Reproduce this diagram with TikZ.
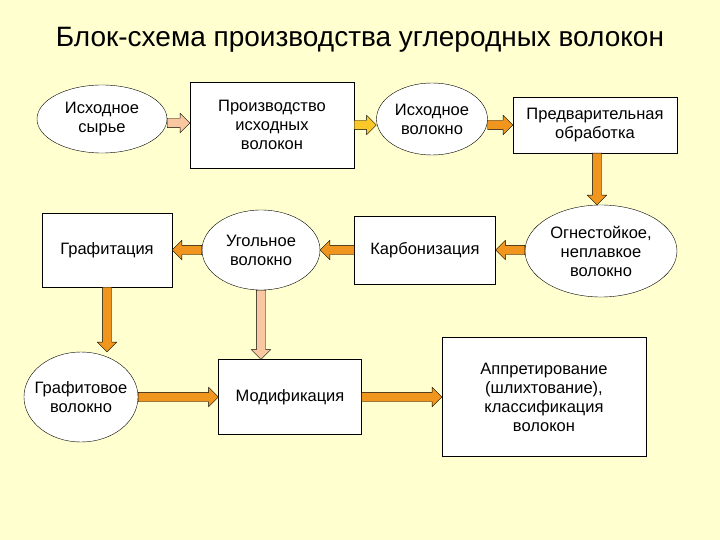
\documentclass[tikz,border=0pt]{standalone}
\usepackage{fontspec}
\setmainfont{Liberation Sans}
\usetikzlibrary{shapes.geometric,shapes.arrows,calc}
\definecolor{bg}{RGB}{255,255,208}
\definecolor{orng}{RGB}{240,150,30}
\definecolor{pnk}{RGB}{250,200,160}
\definecolor{ylw}{RGB}{250,200,40}
\tikzset{
 box/.style={draw,fill=white,align=center,font=\fontsize{16.5}{19}\selectfont,inner sep=2pt},
 ell/.style={ellipse,draw,fill=white,align=center,font=\fontsize{16.5}{19}\selectfont,inner sep=-6pt},
 barrow/.style={single arrow,draw,inner sep=4.5pt,single arrow head extend=5pt,single arrow head indent=0pt,anchor=tail,outer sep=0pt}
}
\newcommand\barr[3]{\path let \p1=($(#2)-(#1)$), \n1={veclen(\x1,\y1)}, \n2={atan2(\y1,\x1)} in node[barrow,fill=#3,minimum height=\n1,rotate=\n2] at (#1) {};}
\begin{document}
\begin{tikzpicture}[x=1pt,y=-1pt]
\fill[bg] (0,0) rectangle (720,540);
\node[font=\fontsize{28}{32}\selectfont] (t) at (360,40) {Блок-схема производства углеродных волокон};
\node[ell,minimum width=130,minimum height=68] (a) at (102,119) {Исходное\\сырье};
\node[box,minimum width=164,minimum height=86] (b) at (272,125) {Производство\\исходных\\волокон};
\node[ell,minimum width=111,minimum height=72] (c) at (432,119) {Исходное\\волокно};
\node[box,minimum width=164,minimum height=56] (d) at (595,125) {Предварительная\\обработка};
\node[ell,minimum width=152,minimum height=92] (e) at (601,251) {Огнестойкое,\\неплавкое\\волокно};
\node[box,minimum width=141,minimum height=68] (f) at (425,250) {Карбонизация};
\node[ell,minimum width=118,minimum height=80] (g) at (261,250) {Угольное\\волокно};
\node[box,minimum width=130,minimum height=74] (h) at (107,250) {Графитация};
\node[ell,minimum width=112,minimum height=90] (i) at (81,397) {Графитовое\\волокно};
\node[box,minimum width=143,minimum height=75] (j) at (290,397) {Модификация};
\node[box,minimum width=204,minimum height=119] (k) at (544,397) {Аппретирование\\(шлихтование),\\классификация\\волокон};
\coordinate (a1) at (a.east|-0,123); \coordinate (b1) at (b.west|-0,123);
\barr{a1}{b1}{pnk}
\coordinate (b2) at (b.east|-0,125); \coordinate (c2) at (c.west|-0,125);
\barr{b2}{c2}{ylw}
\coordinate (c3) at (c.east|-0,125); \coordinate (d3) at (d.west|-0,125);
\barr{c3}{d3}{orng}
\coordinate (d4) at (d.south-|597,0); \coordinate (e4) at (e.north-|597,0);
\barr{d4}{e4}{orng}
\coordinate (e5) at (e.west|-0,250);
\barr{e5}{f.east}{orng}
\barr{f.west}{g.east}{orng}
\barr{g.west}{h.east}{orng}
\barr{h.south}{i.north-|h.south}{orng}
\barr{g.south}{j.north-|g.south}{pnk}
\barr{i.east}{j.west}{orng}
\barr{j.east}{k.west}{orng}
\end{tikzpicture}
\end{document}
